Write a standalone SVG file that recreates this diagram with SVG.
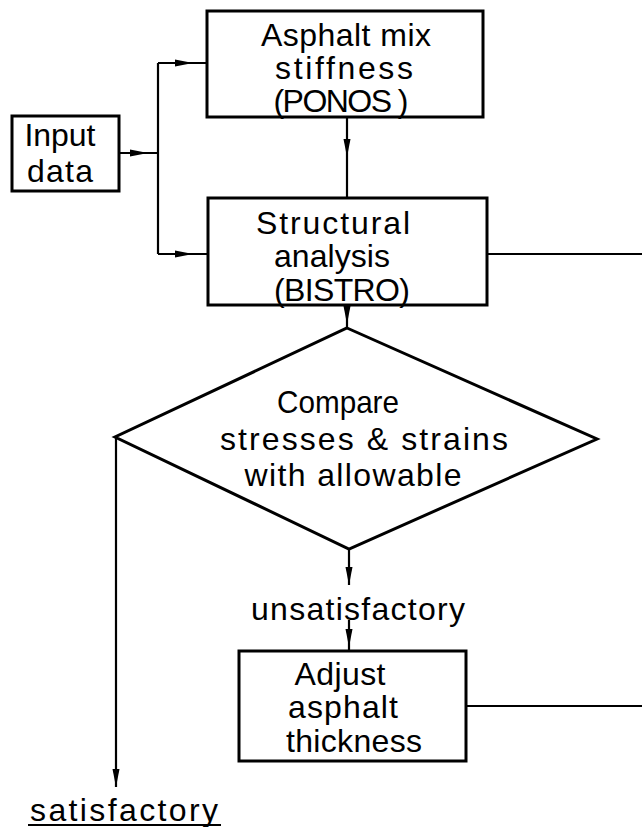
<svg xmlns="http://www.w3.org/2000/svg" width="642" height="827" viewBox="0 0 642 827">
<style>
.box{fill:#fff;stroke:#000;stroke-width:3}
.ln{fill:none;stroke:#000;stroke-width:2.2}
.t{font-family:"Liberation Sans",Arial,sans-serif;font-size:32px;fill:#000;text-anchor:middle}
</style>
<defs>
<marker id="ah" markerUnits="userSpaceOnUse" markerWidth="20" markerHeight="10" refX="18" refY="5" orient="auto">
<path d="M0,1.5 L18,5 L0,8.5 Z" fill="#000"/>
</marker>
</defs>
<rect width="642" height="827" fill="#fff"/>
<g id="connectors">
<path class="ln" d="M119,153 L148,153 L158,153" marker-mid="url(#ah)"/>
<path class="ln" d="M158,63 V254"/>
<path class="ln" d="M158,63 L193,63 L207,63" marker-mid="url(#ah)"/>
<path class="ln" d="M158,254 L193,254 L208,254" marker-mid="url(#ah)"/>
<path class="ln" d="M347,117 L347,157 L347,198" marker-mid="url(#ah)"/>
<path class="ln" d="M347,305 L347,324 L347,328" marker-mid="url(#ah)"/>
<path class="ln" d="M487,254 H642"/>
<path class="ln" d="M349,549 L349,585" marker-end="url(#ah)"/>
<path class="ln" d="M349,620 L349,647 L349,651" marker-mid="url(#ah)"/>
<path class="ln" d="M466,706 H642"/>
<path class="ln" d="M116,437 L116,787" marker-end="url(#ah)"/>
</g>
<g id="input">
<rect class="box" x="12" y="116" width="107" height="75"/>
<text class="t" x="60" y="146" textLength="71">Input</text>
<text class="t" x="60" y="182" textLength="66">data</text>
</g>
<g id="asphalt">
<rect class="box" x="207" y="11" width="276" height="106"/>
<text class="t" x="346" y="46" textLength="170">Asphalt mix</text>
<text class="t" x="344" y="79" textLength="138">stiffness</text>
<text class="t" x="341" y="112" textLength="135">(PONOS )</text>
</g>
<g id="structural">
<rect class="box" x="208" y="198" width="279" height="107"/>
<text class="t" x="333" y="234" textLength="154">Structural</text>
<text class="t" x="332" y="267" textLength="116">analysis</text>
<text class="t" x="342" y="301" textLength="136">(BISTRO)</text>
</g>
<g id="compare">
<polygon class="box" points="347,328 597,439 349,549 115,437"/>
<text class="t" x="338" y="413" textLength="122" lengthAdjust="spacingAndGlyphs">Compare</text>
<text class="t" x="364" y="450" textLength="288">stresses &amp; strains</text>
<text class="t" x="353" y="486" textLength="217">with allowable</text>
</g>
<g id="unsatisfactory">
<text class="t" x="358" y="620" textLength="214">unsatisfactory</text>
</g>
<g id="adjust">
<rect class="box" x="239" y="651" width="227" height="110"/>
<text class="t" x="340" y="685" textLength="91">Adjust</text>
<text class="t" x="343" y="718" textLength="110">asphalt</text>
<text class="t" x="354" y="752" textLength="136">thickness</text>
</g>
<g id="satisfactory">
<text class="t" x="124" y="821" textLength="188">satisfactory</text>
<line x1="28" y1="825" x2="221" y2="825" stroke="#000" stroke-width="2"/>
</g>
</svg>
